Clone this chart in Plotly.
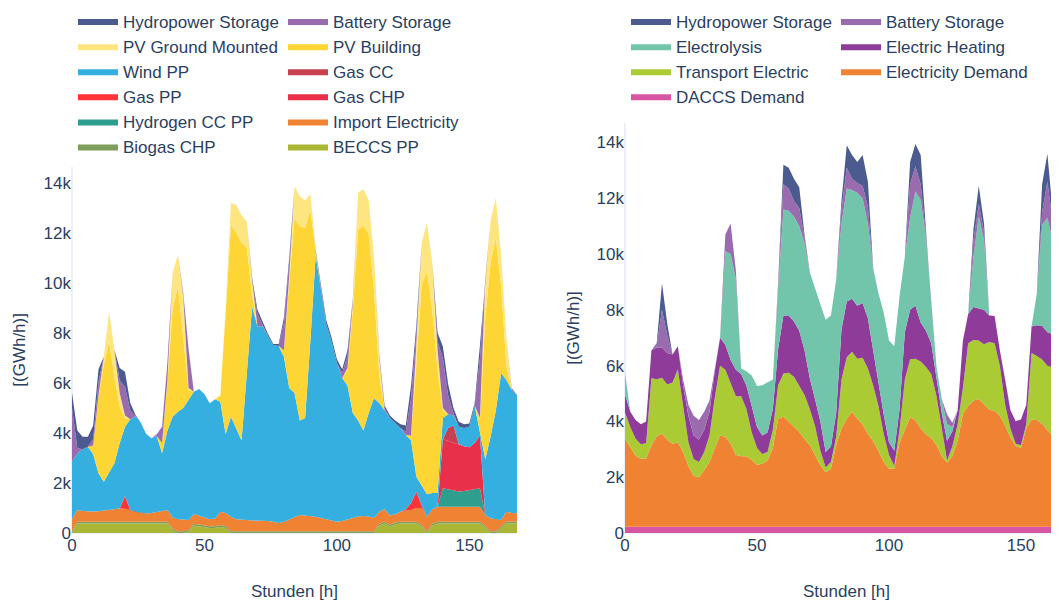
import plotly.graph_objects as go

hours = list(range(0, 169, 2))

# ---------------- supply (left) [GWh/h] ----------------
beccs = [0, 380, 380, 380, 380, 380, 380, 380, 380, 380, 380, 380, 380, 380, 380, 380, 380, 380, 380, 100,
         0, 0, 50, 300, 260, 220, 200, 200, 250, 200, 0,
         0, 0, 0, 0, 0, 0, 0, 0, 0, 0, 0, 0, 0, 0, 0, 0, 0, 0, 0, 0, 0, 0, 0, 0, 0, 0, 0,
         300, 380, 250, 350, 380, 380, 380, 380, 250, 0, 300, 380, 380, 380, 380, 380, 380, 380, 380, 380,
         200, 0, 0, 200, 380, 380, 380]
biogas = [70, 70, 70, 70, 70, 70, 70, 70, 70, 70, 70, 70, 70, 70, 70, 70, 70, 70, 70, 70,
          70, 70, 70, 70, 70, 70, 70, 70, 70, 70, 70, 70, 70, 70, 70, 70, 70, 70, 70, 70,
          70, 70, 70, 70, 70, 70, 70, 70, 70, 70, 70, 70, 70, 70, 70, 70, 70, 70, 70, 70,
          70, 70, 70, 70, 70, 70, 70, 70, 70, 70, 70, 70, 70, 70, 70, 70, 70, 70, 70, 70,
          70, 70, 70, 70, 70]
imp = [480, 470, 430, 410, 410, 420, 450, 500, 530, 530, 520, 470, 400, 350, 330, 350, 390, 430, 470, 450,
       480, 470, 400, 390, 350, 310, 280, 310, 530, 530, 580, 480, 450, 450, 430, 430, 430, 410, 380, 330,
       380, 480, 580, 650, 630, 610, 580, 530, 480, 430, 380, 410, 480, 550, 590, 610, 590, 530, 480, 500,
       380, 330, 400, 450, 470, 550, 680, 580, 580, 600, 600, 600, 600, 580, 580, 580, 600, 600, 450, 520,
       480, 250, 400, 350, 340]
hydrogen = [0] * 70 + [740, 700, 650, 630, 650, 690, 710, 740] + [0] * 7
gas_chp = [0] * 70 + [1960, 1930, 1900, 1890, 1790, 1710, 1840, 2110] + [0] * 7
gas_pp = [0] * 10 + [510] + [0] * 52 + [50, 280, 650, 100] + [0] * 18
gas_cc = [0] * 71 + [520, 700] + [0] * 12
wind = [2300, 2270, 2470, 2590, 2290, 1520, 1150, 1500, 1810, 2610, 2770, 3630, 3830, 3610, 3180, 2990, 3040, 2310, 3170, 4030,
        4300, 4460, 4800, 4890, 5080, 4950, 4640, 4770, 4400, 3150, 4000, 3600, 3180, 5880, 8550, 7750, 7750, 7390, 7050, 7070,
        6600, 5250, 4950, 3780, 3900, 7020, 10450, 9100, 7800, 7150, 6350, 5720, 5350, 4180, 3840, 3420, 4140, 4790, 4350, 3950,
        3900, 3650, 3350, 2970, 2500, 600, 800, 900, 650, 550, 850, 550, 400, 700, 730, 820, 1500, 100, 2230, 3260,
        4350, 5880, 5270, 4920, 4730]
pv_building = [0, 0, 0, 0, 350, 3060, 4670, 5200, 3460, 1460, 350, 0, 0, 0, 0, 0, 0, 410, 1910, 4340,
               5000, 2850, 400, 0, 0, 0, 0, 0, 250, 4850, 7650, 7850, 7900, 5000, 450, 0, 0, 0, 0, 0,
               250, 4200, 7000, 7750, 7600, 5200, 100, 0, 0, 0, 0, 0, 600, 4100, 7600, 8200, 7150, 4310, 1100, 0,
               0, 0, 0, 0, 200, 4550, 8000, 8900, 7300, 4900, 300, 0, 0, 0, 0, 0, 0, 500, 5650, 6950,
               6900, 3450, 530, 0, 0]
pv_ground = [0, 0, 0, 0, 0, 50, 330, 1200, 1070, 550, 100, 0, 0, 0, 0, 0, 0, 0, 100, 1400,
             1270, 1600, 80, 0, 0, 0, 0, 0, 0, 200, 900, 1100, 1100, 1050, 600, 0, 0, 0, 0, 0,
             0, 300, 1250, 1200, 1100, 650, 50, 0, 0, 0, 0, 0, 100, 300, 1500, 1450, 1350, 1350, 700, 0,
             0, 0, 0, 0, 0, 800, 1700, 1950, 1900, 800, 100, 0, 0, 0, 0, 0, 0, 100, 1500, 1700,
             1600, 1250, 1150, 0, 0]
battery_l = [2150, 210, 0, 0, 250, 550, 0, 0, 0, 500, 1150, 350, 0, 0, 0, 0, 70, 600, 700, 0,
             0, 150, 1500, 0, 0, 0, 0, 0, 0, 0, 0, 0, 0, 0, 0, 500, 50, 0, 0, 0,
             1100, 500, 0, 0, 0, 0, 0, 0, 0, 0, 0, 200, 500, 100, 0, 0, 0, 0, 150, 100,
             0, 0, 0, 130, 1500, 400, 0, 0, 0, 350, 2000, 750, 100, 0, 0, 0, 0, 2400, 0, 0,
             0, 0, 0, 80, 0]
hydro_l = [600, 700, 500, 400, 550, 500, 0, 0, 0, 500, 600, 300, 40, 0, 0, 0, 0, 50, 0, 0,
           0, 0, 50, 0, 0, 0, 0, 0, 0, 0, 0, 0, 0, 0, 100, 170, 100, 80, 50, 80,
           200, 200, 0, 0, 0, 0, 50, 150, 150, 150, 150, 150, 200, 50, 0, 0, 0, 0, 0, 100,
           100, 100, 150, 250, 500, 300, 0, 0, 0, 350, 450, 450, 200, 200, 150, 130, 100, 500, 0, 0,
           0, 0, 0, 0, 0]

# ---------------- demand (right) [GWh/h] ----------------
daccs = [220, 220, 220, 220, 220, 220, 220, 220, 220, 220, 220, 220, 220, 220, 220, 220, 220, 220, 220, 220,
         220, 220, 220, 220, 220, 220, 220, 220, 220, 220, 220, 220, 220, 220, 220, 220, 220, 220, 220, 220,
         220, 220, 220, 220, 220, 220, 220, 220, 220, 220, 220, 220, 220, 220, 220, 220, 220, 220, 220, 220,
         220, 220, 220, 220, 220, 220, 220, 220, 220, 220, 220, 220, 220, 220, 220, 220, 220, 220, 220, 220,
         220, 220, 220, 220, 220]
el_demand = [3160, 2880, 2560, 2430, 2460, 2930, 3250, 3350, 3110, 2980, 3030, 2680, 2180, 1830, 1780, 2030, 2330, 2830, 3280, 3230,
             2980, 2580, 2530, 2530, 2410, 2230, 2260, 2380, 2830, 3880, 3950, 3780, 3580, 3400, 3150, 2930, 2580, 2200, 1960, 2080,
             2930, 3530, 3880, 4130, 3880, 3680, 3330, 3080, 2730, 2330, 2080, 2080, 3030, 3480, 3930, 3830, 3530, 3330, 3180, 2930,
             2530, 2300, 2530, 3080, 4060, 4330, 4530, 4580, 4380, 4200, 4150, 3980, 3630, 3200, 2900, 2830, 3530, 3850, 3830, 3700,
             3460, 3280, 3200, 3130, 3080]
transport = [930, 700, 600, 530, 540, 2400, 2040, 2000, 1990, 2200, 2620, 1600, 850, 600, 550, 650, 950, 1800, 2500, 2400,
             2150, 2100, 2150, 1700, 970, 600, 350, 300, 650, 1200, 1550, 1750, 1800, 1680, 1580, 1300, 1030, 530, 170, 250,
             300, 1750, 2200, 2150, 2150, 2380, 2350, 2000, 1600, 1000, 500, 100, 450, 1800, 2080, 2200, 2400, 2400, 2300, 1750,
             950, 80, 350, 600, 920, 2250, 2170, 2100, 2170, 2430, 2430, 1800, 750, 330, 80, 100, 150, 2380, 2300, 2300,
             2320, 2430, 2400, 2150, 1900]
heating = [660, 550, 670, 720, 780, 1000, 1140, 1080, 1130, 1000, 830, 800, 950, 850, 800, 800, 850, 950, 1000, 900,
           850, 950, 800, 830, 950, 750, 670, 700, 750, 1300, 2080, 2050, 1980, 1950, 1600, 1100, 960, 1050, 550, 550,
           850, 1800, 2000, 1900, 1900, 1970, 1800, 1200, 850, 700, 450, 550, 750, 1700, 1770, 1900, 1400, 1300, 1100, 700,
           600, 700, 550, 500, 1700, 1050, 1180, 1150, 1230, 950, 980, 550, 900, 650, 810, 920, 700, 950, 1100, 1210,
           1200, 1200, 1250, 800, 300]
electrolysis = [780, 0, 0, 0, 0, 0, 0, 0, 0, 0, 0, 0, 0, 0, 0, 0, 0, 0, 0, 3350,
                3800, 3250, 200, 520, 1100, 1470, 1800, 1800, 1050, 2200, 3800, 3750, 3770, 3750, 3850, 3800, 3950, 4200, 4750, 4700,
                4800, 3800, 4050, 3900, 4050, 3750, 3400, 3000, 3200, 3650, 3650, 3750, 4050, 2700, 3300, 4100, 4400, 3350, 1400, 350,
                500, 600, 150, 0, 0, 0, 1800, 3300, 2500, 0, 0, 0, 0, 0, 0, 0, 0, 0, 1150, 3620,
                4100, 3370, 530, 100, 0]
battery_r = [0, 0, 0, 0, 0, 0, 100, 1350, 650, 0, 0, 200, 400, 700, 700, 650, 400, 50, 0, 600,
             1100, 300, 0, 0, 0, 0, 0, 0, 0, 200, 900, 800, 550, 650, 200, 0, 0, 0, 0, 0,
             0, 500, 750, 400, 350, 450, 600, 0, 0, 0, 0, 0, 0, 0, 1200, 900, 550, 100, 0, 0,
             0, 350, 150, 0, 0, 0, 600, 450, 300, 0, 0, 0, 0, 0, 0, 0, 0, 0, 0, 450,
             1300, 700, 200, 0, 0]
hydro_r = [0, 0, 0, 0, 0, 0, 50, 950, 400, 0, 0, 0, 0, 0, 0, 0, 0, 0, 0, 0,
           0, 0, 0, 0, 0, 0, 0, 0, 0, 0, 700, 750, 800, 750, 100, 0, 0, 0, 0, 0,
           0, 300, 800, 850, 750, 1100, 900, 0, 0, 0, 0, 0, 0, 0, 800, 800, 1050, 100, 0, 0,
           0, 0, 0, 0, 0, 0, 400, 650, 300, 0, 0, 0, 0, 0, 0, 0, 0, 0, 0, 1000,
           1000, 300, 100, 0, 0]

# name, values, colour, legend column, legend rank (stack order: bottom first)
supply = [
    ("BECCS PP", beccs, "#a9b735", "c2", 12),
    ("Biogas CHP", biogas, "#7f9e5a", "c1", 11),
    ("Import Electricity", imp, "#f08233", "c2", 10),
    ("Hydrogen CC PP", hydrogen, "#2e9e8f", "c1", 9),
    ("Gas CHP", gas_chp, "#e8304a", "c2", 8),
    ("Gas PP", gas_pp, "#ff3338", "c1", 7),
    ("Gas CC", gas_cc, "#c8404f", "c2", 6),
    ("Wind PP", wind, "#35afe0", "c1", 5),
    ("PV Building", pv_building, "#fdd535", "c2", 4),
    ("PV Ground Mounted", pv_ground, "#ffe57f", "c1", 3),
    ("Battery Storage", battery_l, "#9b6bb0", "c2", 2),
    ("Hydropower Storage", hydro_l, "#4b5a8f", "c1", 1),
]
demand = [
    ("DACCS Demand", daccs, "#d855a4", "d1", 7),
    ("Electricity Demand", el_demand, "#f08233", "d2", 6),
    ("Transport Electric", transport, "#aacb33", "d1", 5),
    ("Electric Heating", heating, "#8e3b9a", "d2", 4),
    ("Electrolysis", electrolysis, "#72c4ab", "d1", 3),
    ("Battery Storage", battery_r, "#9b6bb0", "d2", 2),
    ("Hydropower Storage", hydro_r, "#4b5a8f", "d1", 1),
]

fig = go.Figure()
for name, vals, col, grp, rank in supply:
    fig.add_trace(go.Scatter(x=hours, y=vals, name=name, stackgroup="supply", mode="lines",
                             line=dict(width=0, color=col), fillcolor=col,
                             legend="legend", legendgroup=grp, legendrank=rank,
                             xaxis="x", yaxis="y"))
for name, vals, col, grp, rank in demand:
    fig.add_trace(go.Scatter(x=hours, y=vals, name=name, stackgroup="demand", mode="lines",
                             line=dict(width=0, color=col), fillcolor=col,
                             legend="legend2", legendgroup=grp, legendrank=rank,
                             xaxis="x2", yaxis="y2"))

font_col = "#2a3f5f"
axis_common = dict(showgrid=False, zeroline=True, zerolinecolor="#EBF0F8", zerolinewidth=2,
                   ticks="", showline=False, automargin=False, tickfont=dict(size=17, color=font_col))
legend_common = dict(orientation="h", traceorder="grouped", xref="paper", yref="paper",
                     yanchor="top", y=1.2915, xanchor="left", font=dict(size=17, color=font_col),
                     itemwidth=40, entrywidth=155, bgcolor="rgba(0,0,0,0)")

fig.update_layout(
    width=1051, height=593, autosize=False,
    margin=dict(l=64, r=0, t=115, b=68, autoexpand=False),
    paper_bgcolor="white", plot_bgcolor="white",
    font=dict(family="Liberation Sans, Arial, sans-serif", size=17, color=font_col),
    showlegend=True,
    xaxis=dict(domain=[0, 0.4509], range=[0, 168], dtick=50, anchor="y", **axis_common),
    yaxis=dict(domain=[0, 0.8939], range=[0, 14650], dtick=2000, anchor="x", **axis_common),
    xaxis2=dict(domain=[0.5603, 1], range=[0, 164.4], dtick=50, anchor="y2", **axis_common),
    yaxis2=dict(domain=[0, 1], range=[0, 14700], dtick=2000, anchor="x2", **axis_common),
    legend=dict(x=0.001, **legend_common),
    legend2=dict(x=0.5613, **legend_common),
    annotations=[
        dict(text="Stunden [h]", xref="paper", yref="paper", x=0.2254, y=-0.1415, showarrow=False,
             xanchor="center", yanchor="middle"),
        dict(text="Stunden [h]", xref="paper", yref="paper", x=0.7852, y=-0.1415, showarrow=False,
             xanchor="center", yanchor="middle"),
        dict(text="[(GWh/h)]", xref="paper", yref="paper", x=-0.0527, y=0.447, showarrow=False,
             textangle=-90, xanchor="center", yanchor="middle"),
        dict(text="[(GWh/h)]", xref="paper", yref="paper", x=0.5086, y=0.5004, showarrow=False,
             textangle=-90, xanchor="center", yanchor="middle"),
    ],
)

fig.write_html("out.html")
